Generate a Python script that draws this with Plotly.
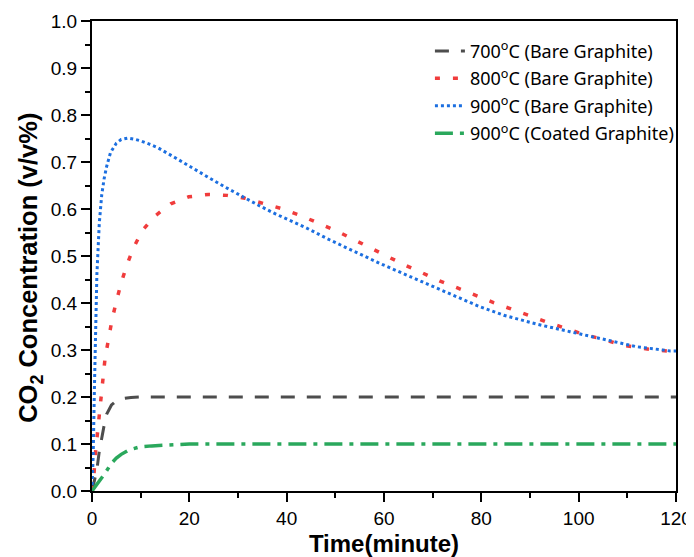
import plotly.graph_objects as go

# ---- data ----
t_700 = [0, 0.5, 1, 1.5, 2, 2.5, 3, 4, 5, 6, 8, 10, 20, 40, 60, 80, 100, 120]
c_700 = [0, 0.02, 0.045, 0.085, 0.115, 0.14, 0.163, 0.183, 0.192, 0.196, 0.199, 0.2, 0.2, 0.2, 0.2, 0.2, 0.2, 0.2]

t_800 = [0, 0.3, 0.7, 1.1, 1.45, 1.8, 2.2, 2.7, 3.4, 4.1, 5.0, 6.0, 7.2, 8.6, 10.4, 12.8, 16.2, 19.9,
         23.9, 27.8, 31.4, 35.3, 39.2, 42.9, 46.5, 50.1, 53.6, 57.1, 60.6, 64.2, 67.9, 71.4, 75.1,
         78.7, 82.5, 86.2, 90.0, 93.6, 97.4, 101.1, 104.9, 108.8, 112.7, 116.6, 120]
c_800 = [0, 0.02, 0.08, 0.121, 0.162, 0.203, 0.243, 0.284, 0.323, 0.364, 0.403, 0.443, 0.482, 0.519,
         0.555, 0.584, 0.611, 0.626, 0.631, 0.629, 0.623, 0.612, 0.600, 0.586, 0.570, 0.554, 0.536,
         0.518, 0.499, 0.481, 0.464, 0.447, 0.432, 0.416, 0.401, 0.387, 0.372, 0.359, 0.346, 0.333,
         0.323, 0.311, 0.304, 0.299, 0.297]

t_900 = [0, 0.25, 0.5, 0.75, 1.0, 1.5, 2.0, 2.5, 3.0, 3.8, 5.0, 6.0, 7.4, 8.5, 10.0, 11.8, 13.6,
         17.1, 20.5, 23.8, 27.3, 30.8, 34.2, 37.8, 40.2, 44.0, 48.9, 54.0, 59.2, 64.3, 69.4, 74.5,
         79.7, 84.6, 91.4, 98.2, 105.0, 111.9, 118.8, 120]
c_900 = [0, 0.08, 0.22, 0.364, 0.46, 0.57, 0.63, 0.665, 0.69, 0.72, 0.74, 0.748, 0.751, 0.749,
         0.745, 0.738, 0.730, 0.709, 0.689, 0.668, 0.647, 0.627, 0.608, 0.589, 0.578, 0.560,
         0.534, 0.509, 0.484, 0.461, 0.438, 0.415, 0.392, 0.374, 0.355, 0.339, 0.323, 0.307,
         0.298, 0.298]

t_coat = [0, 1, 2, 3, 4, 5, 6, 7.5, 8.5, 9.9, 12.3, 15.5, 20, 40, 60, 80, 100, 120]
c_coat = [0, 0.013, 0.028, 0.043, 0.059, 0.07, 0.078, 0.087, 0.09, 0.094, 0.096, 0.098, 0.1,
          0.1, 0.1, 0.1, 0.1, 0.1]

labels = ["700<sup>o</sup>C (Bare Graphite)", "800<sup>o</sup>C (Bare Graphite)",
          "900<sup>o</sup>C (Bare Graphite)", "900<sup>o</sup>C (Coated Graphite)"]

x_ticks = [0, 20, 40, 60, 80, 100, 120]
y_ticks = [0.0, 0.1, 0.2, 0.3, 0.4, 0.5, 0.6, 0.7, 0.8, 0.9, 1.0]

FONT = "Liberation Sans, Arial, sans-serif"

fig = go.Figure()
fig.add_trace(go.Scatter(x=t_700, y=c_700, mode="lines", name=labels[0], legendgroup="a",
                         line=dict(color="#4d4d4d", width=3, dash="14px,12px")))
fig.add_trace(go.Scatter(x=t_800, y=c_800, mode="lines", name=labels[1], legendgroup="b",
                         line=dict(color="#f03c3c", width=3.5, dash="5px,13px")))
fig.add_trace(go.Scatter(x=t_900, y=c_900, mode="lines", name=labels[2], legendgroup="c",
                         line=dict(color="#1c6fe0", width=3, dash="3px,3px")))
fig.add_trace(go.Scatter(x=t_coat, y=c_coat, mode="lines", name=labels[3], legendgroup="d",
                         line=dict(color="#2aa85c", width=3.5, dash="18px,7px,4px,7px")))

axis_common = dict(showline=True, linecolor="black", linewidth=2, mirror=True,
                   ticks="outside", ticklen=9, tickwidth=2, tickcolor="black",
                   showgrid=False, zeroline=False, automargin=False,
                   tickfont=dict(family=FONT, size=19, color="black"))

fig.update_xaxes(range=[0, 120], tickvals=x_ticks, ticktext=[str(v) for v in x_ticks],
                 minor=dict(ticks="outside", ticklen=5, tickwidth=2, tickcolor="black", dtick=10),
                 title=dict(text="<b>Time(minute)</b>", font=dict(family=FONT, size=24, color="black"),
                            standoff=7),
                 **axis_common)
fig.update_yaxes(range=[0, 1.0], tickvals=y_ticks, ticktext=[f"{v:.1f}" for v in y_ticks],
                 minor=dict(ticks="outside", ticklen=5, tickwidth=2, tickcolor="black", dtick=0.05),
                 **axis_common)

# the page body has an 8px margin, so the figure is 8px smaller and margins are shifted
fig.update_layout(
    width=686, height=549,
    margin=dict(l=84, r=18, t=13, b=66),
    paper_bgcolor="white", plot_bgcolor="white",
    legend=dict(x=1.005, y=0.975, xanchor="right", yanchor="top",
                bgcolor="rgba(0,0,0,0)", borderwidth=0,
                font=dict(family="Noto Sans", size=18, color="black"),
                traceorder="grouped", tracegroupgap=1),
    annotations=[dict(text="<b>CO<sub>2</sub> Concentration (v/v%)</b>", textangle=-90,
                      xref="paper", yref="paper", x=-0.106, y=0.475,
                      xanchor="center", yanchor="middle", showarrow=False,
                      font=dict(family=FONT, size=25.5, color="black"))],
)

fig.write_html("out.html")
